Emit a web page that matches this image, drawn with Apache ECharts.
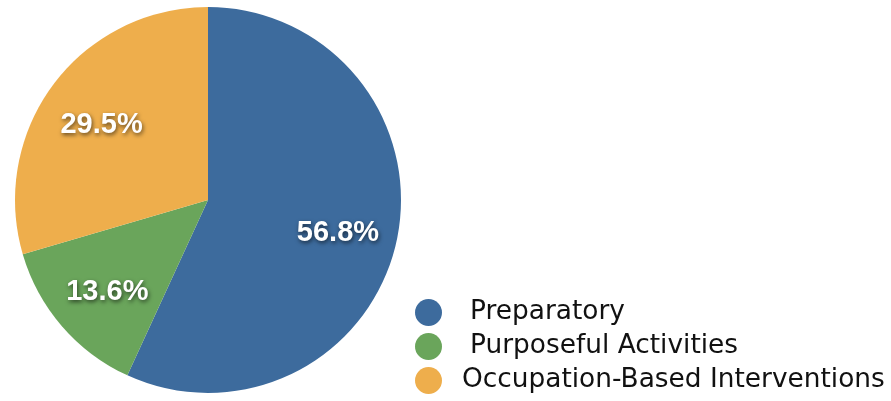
<!DOCTYPE html>
<html>
<head>
<meta charset="utf-8">
<script src="https://cdn.jsdelivr.net/npm/echarts@6/dist/echarts.min.js"></script>
<style>
  html, body { margin: 0; padding: 0; background: #fff; }
  #chart { width: 891px; height: 401px; }
</style>
</head>
<body>
<div id="chart"></div>
<script>
const categories = ['Preparatory', 'Purposeful Activities', 'Occupation-Based Interventions']
const shares = [56.8, 13.6, 29.5]
const colors = ['#3d6b9d', '#6aa55b', '#eeae4c']
// legend text indent per item (the last one sits a bit further left)
const legendIndent = [23, 23, 15]

const myChart = echarts.init(document.getElementById('chart'))

const pieData = categories.map((name, i) => ({ name, value: shares[i] }))

const option = {
  color: colors,
  animation: false,
  legend: {
    orient: 'vertical',
    left: 410,
    top: 294,
    height: 120,
    icon: 'circle',
    itemWidth: 27,
    itemHeight: 27,
    itemGap: 7,
    data: categories.map((name, i) => ({
      name,
      textStyle: { padding: [0, 0, 0, legendIndent[i]] }
    })),
    textStyle: {
      fontFamily: 'DejaVu Sans',
      fontSize: 26.4,
      color: '#111'
    }
  },
  series: [
    {
      type: 'pie',
      center: [208, 200],
      radius: 193,
      startAngle: 90,
      clockwise: true,
      silent: true,
      label: { show: false },
      labelLine: { show: false },
      itemStyle: { borderWidth: 0 },
      data: pieData
    },
    {
      // transparent ring, only used to place the labels further out
      type: 'pie',
      center: [208, 200],
      radius: [67, 193],
      startAngle: 90,
      clockwise: true,
      silent: true,
      itemStyle: { color: 'rgba(0,0,0,0)', borderWidth: 0 },
      label: {
        show: true,
        position: 'inside',
        offset: [0, 5],
        formatter: item => item.value + '%',
        fontFamily: 'Liberation Sans',
        fontWeight: 'bold',
        fontSize: 29,
        color: '#fff',
        textShadowColor: 'rgba(0,0,0,0.6)',
        textShadowBlur: 4,
        textShadowOffsetX: 1,
        textShadowOffsetY: 2
      },
      labelLine: { show: false },
      data: pieData
    }
  ]
}

myChart.setOption(option)
</script>
</body>
</html>
